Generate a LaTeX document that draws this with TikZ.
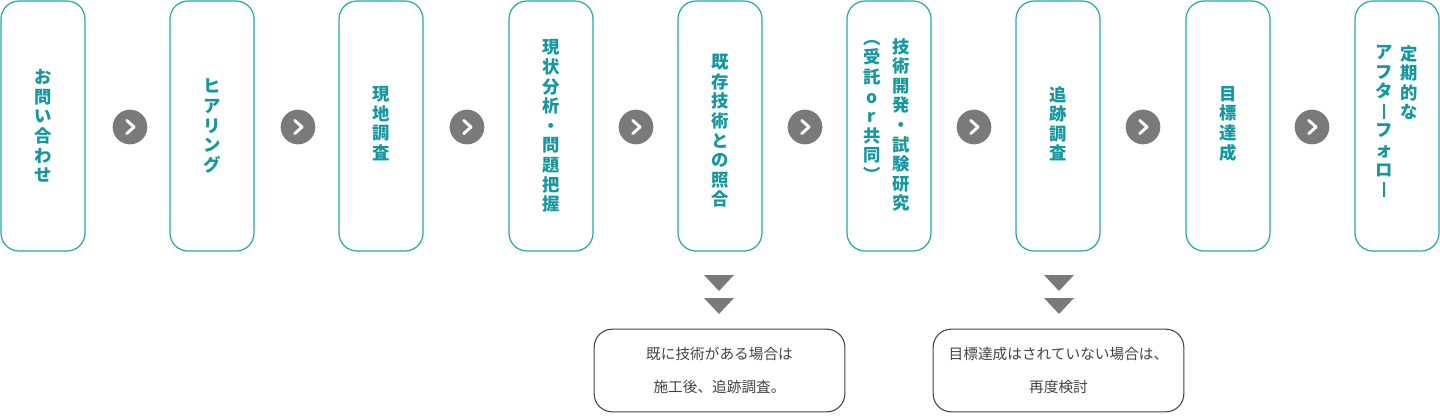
\documentclass[tikz,border=0pt]{standalone}
\usepackage{fontspec}
\setmainfont{Noto Sans CJK JP}[BoldFont={Noto Sans CJK JP Black}]
\usepackage{xcolor}
\usetikzlibrary{shapes,arrows,positioning}
\definecolor{tealline}{HTML}{25A7AA}
\definecolor{tealtext}{HTML}{1597A0}
\definecolor{chevgray}{HTML}{7A7A7A}
\definecolor{notegray}{HTML}{444444}
\tikzset{
  stepbox/.style={draw=tealline, line width=0.9pt, rounded corners=13.5pt, minimum width=63pt, minimum height=187.5pt, fill=white},
  vtext/.style={text=tealtext, font=\bfseries\fontsize{13pt}{14.7pt}\selectfont, align=center, inner sep=0pt, text width=14pt},
  nextmark/.style={circle, fill=chevgray, minimum size=26pt, inner sep=0pt},
  notebox/.style={draw=notegray, line width=0.8pt, rounded corners=13.5pt, minimum width=188pt, minimum height=62pt, align=center, text=notegray, font=\fontsize{11pt}{24.5pt}\selectfont},
  downmark/.style={fill=chevgray, draw=none}
}
\newcommand{\chev}[1]{\draw[white, line width=2.2pt, line cap=round, line join=round] ([xshift=-2.5pt,yshift=5pt]#1.center) -- ([xshift=3pt]#1.center) -- ([xshift=-2.5pt,yshift=-5pt]#1.center);}
\newcommand{\vbar}{\rule[-1pt]{1.6pt}{11pt}}
\begin{document}
\begin{tikzpicture}[x=0.75pt, y=-0.75pt]
  \useasboundingbox (0,0) rectangle (1440,415);
  % step boxes
  \node[stepbox] (ask) at (43,126) {};
  \node[stepbox] (hear) at (212,126) {};
  \node[stepbox] (site) at (381,126) {};
  \node[stepbox] (study) at (551,126) {};
  \node[stepbox] (match) at (720,126) {};
  \node[stepbox] (develop) at (889,126) {};
  \node[stepbox] (trace) at (1058,126) {};
  \node[stepbox] (goal) at (1228,126) {};
  \node[stepbox] (follow) at (1397,126) {};

  % vertical labels
  \node[vtext] (askt) at (ask.center) {お\\問\\い\\合\\わ\\せ};
  \node[vtext] (heart) at (hear.center) {ヒ\\ア\\リ\\ン\\グ};
  \node[vtext, anchor=north] (sitet) at (381,86) {現\\地\\調\\査};
  \node[vtext] (studyt) at (study.center) {現\\状\\分\\析\\・\\問\\題\\把\\握};
  \node[vtext, anchor=north] (matcht) at (720,54) {既\\存\\技\\術\\と\\の\\照\\合};
  \node[vtext, anchor=north] (developt) at (901,38) {技\\術\\開\\発\\・\\試\\験\\研\\究};
  \node[vtext, anchor=north] (developu) at (872,40) {︵\\受\\託\\o\\r\\共\\同\\︶};
  \node[vtext, anchor=north] (tracet) at (1058,86) {追\\跡\\調\\査};
  \node[vtext, anchor=north] (goalt) at (1228,86) {目\\標\\達\\成};
  \node[vtext, anchor=north] (followt) at (1409,45) {定\\期\\的\\な};
  \node[vtext, anchor=north] (followu) at (1384,45) {ア\\フ\\タ\\\vbar\\フ\\ォ\\ロ\\\vbar};

  % arrows between steps
  \node[nextmark] (n1) at (130,127) {}; \chev{n1}
  \node[nextmark] (n2) at (298,127) {}; \chev{n2}
  \node[nextmark] (n3) at (467,127) {}; \chev{n3}
  \node[nextmark] (n4) at (636,127) {}; \chev{n4}
  \node[nextmark] (n5) at (805,127) {}; \chev{n5}
  \node[nextmark] (n6) at (974,127) {}; \chev{n6}
  \node[nextmark] (n7) at (1143,127) {}; \chev{n7}
  \node[nextmark] (n8) at (1312,127) {}; \chev{n8}

  % notes below
  \coordinate (mdown) at (719,275);
  \coordinate (tdown) at (1059,275);
  \fill[downmark] (mdown) ++(-15,0) -- ++(30,0) -- ++(-15,16) -- cycle;
  \fill[downmark] (mdown) ++(-15,23) -- ++(30,0) -- ++(-15,16) -- cycle;
  \fill[downmark] (tdown) ++(-15,0) -- ++(30,0) -- ++(-15,16) -- cycle;
  \fill[downmark] (tdown) ++(-15,23) -- ++(30,0) -- ++(-15,16) -- cycle;
  \node[notebox] (matchnote) at (719.5,370.5) {既に技術がある場合は\\施工後、追跡調査。};
  \node[notebox] (tracenote) at (1058.5,370.5) {目標達成はされていない場合は、\\再度検討};
\end{tikzpicture}
\end{document}
